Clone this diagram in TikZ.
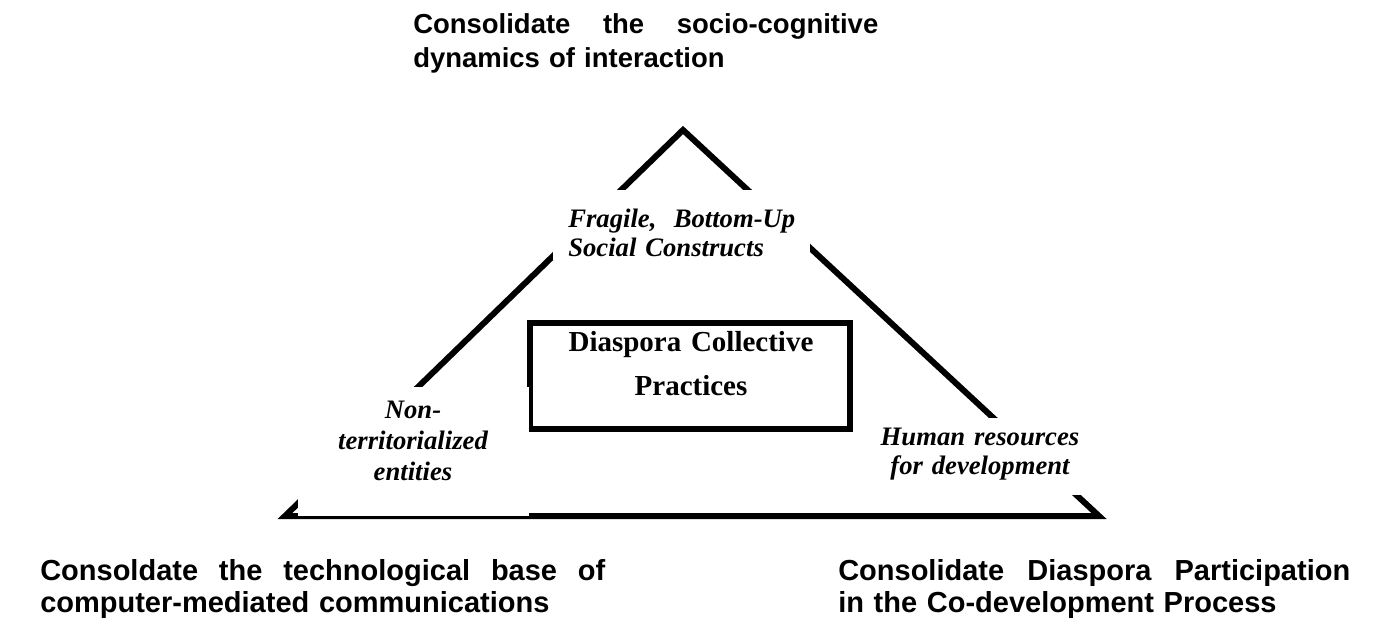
\documentclass[tikz,border=0pt]{standalone}
\usepackage{fontspec}
\setmainfont{Liberation Serif}
\newfontfamily\headfont{Liberation Sans}
\usepackage{tikz}

\begin{document}
\begin{tikzpicture}[x=0.75pt,y=0.75pt,yscale=-1,xscale=1,
  goal/.style={anchor=base west, inner sep=0pt, align=left, font=\headfont\bfseries\fontsize{20.6}{25.5}\selectfont},
  aspect/.style={inner sep=0pt, font=\bfseries\itshape\fontsize{20}{21.75}\selectfont},
  edge/.style={line width=4.5pt, line join=miter}
  ]
\useasboundingbox (0,0) rectangle (1391,621);
%Shape: Triangle
\draw [edge]  (683,130) -- (285,516) -- (1099,516) -- cycle ;
%Shape: Rectangle
\draw [line width=4.5pt]  (530,322.5) rectangle (850,428.5) ;
%Shape: Rectangle (white, over the sides)
\fill [white]  (553,190) rectangle (810,280) ;
\fill [white]  (298,387) rectangle (529,516) ;
\fill [white]  (865,418) rectangle (1100,495) ;

% Text Node
\draw (413,33) node [goal, text width=348.75pt] (socio) {Consolidate\hfill the\hfill socio-cognitive\\dynamics of interaction};
% Text Node
\draw (40,580) node [goal, text width=423.75pt, font=\headfont\bfseries\fontsize{21.75}{24}\selectfont] (techno) {Consoldate\hfill the\hfill technological\hfill base\hfill of\\computer-mediated communications};
% Text Node
\draw (838,580) node [goal, text width=384pt, font=\headfont\bfseries\fontsize{21.75}{24}\selectfont] (codev) {Consolidate\hfill Diaspora\hfill Participation\\in the Co-development Process};
% Text Node
\draw (568,227) node [aspect, anchor=base west, align=left, text width=170.25pt] (fragile) {Fragile,\hfill Bottom-Up\\Social Constructs};
% Text Node
\draw (413,418) node [aspect, anchor=base, align=center, text width=172.5pt, font=\bfseries\itshape\fontsize{20}{23.25}\selectfont] (nonterr) {Non-\\territorialized\\entities};
% Text Node
\draw (980,445) node [aspect, anchor=base, align=center, text width=172.5pt] (human) {Human resources\\for development};
% Text Node
\draw (691,351) node [anchor=base, inner sep=0pt, align=center, text width=240pt, font=\bfseries\fontsize{21.75}{33}\selectfont] (practices) {Diaspora Collective\\Practices};
\end{tikzpicture}
\end{document}
